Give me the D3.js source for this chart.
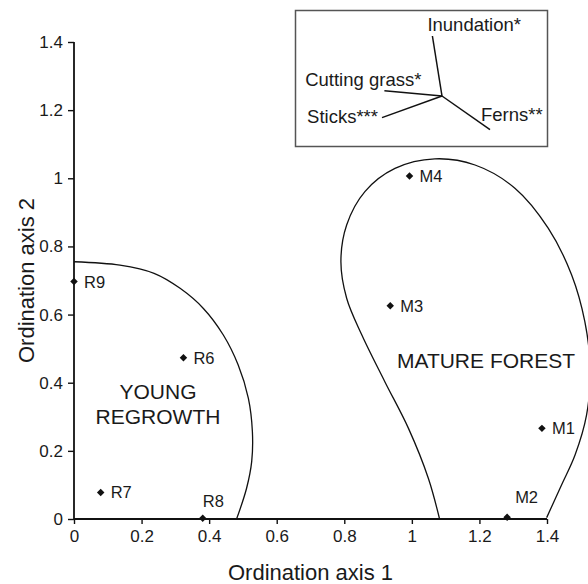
<!DOCTYPE html>
<html>
<head>
<meta charset="utf-8">
<script src="https://cdn.jsdelivr.net/npm/d3@7"></script>
<style>
  body { margin: 0; background: #fff; }
  svg { display: block; font-family: "Liberation Sans", Arial, sans-serif; }
  text { fill: #1a1a1a; }
</style>
</head>
<body>
<svg id="chart" width="588" height="584"></svg>
<script>
// sites on the ordination plot
var siteNames = ["R9", "R6", "R7", "R8", "M4", "M3", "M1", "M2"];
var siteAxis1 = [0, 0.324, 0.079, 0.381, 0.993, 0.936, 1.385, 1.282];
var siteAxis2 = [0.697, 0.473, 0.078, 0.002, 1.007, 0.626, 0.266, 0.005];

// group envelopes
var youngX = [0, 0.136, 0.237, 0.314, 0.383, 0.442, 0.486, 0.516, 0.528, 0.526, 0.511, 0.482];
var youngY = [0.755, 0.745, 0.721, 0.677, 0.618, 0.540, 0.452, 0.355, 0.257, 0.169, 0.091, 0.002];
var matureX = [1.082, 1.049, 0.990, 0.920, 0.852, 0.807, 0.790, 0.807, 0.861, 0.950, 1.068, 1.187, 1.305, 1.404, 1.473, 1.512, 1.528, 1.517, 1.483, 1.443, 1.399];
var matureY = [0.000, 0.119, 0.266, 0.403, 0.540, 0.648, 0.755, 0.863, 0.961, 1.029, 1.057, 1.039, 0.971, 0.853, 0.716, 0.579, 0.440, 0.305, 0.188, 0.100, 0.004];

// environmental vectors (inset biplot)
var vecNames = ["Inundation*", "Cutting grass*", "Sticks***", "Ferns**"];
var vecX = [-0.08, -0.48, -0.50, 0.40];
var vecY = [0.50, 0.044, -0.18, -0.28];

var ticks = [0, 0.2, 0.4, 0.6, 0.8, 1, 1.2, 1.4];

var svg = d3.select("#chart");

var x = d3.scaleLinear().domain([0, 1.4]).range([74, 547]);
var y = d3.scaleLinear().domain([0, 1.4]).range([519, 42]);

// axes
var xAxis = svg.append("g").attr("transform", "translate(0," + y(0) + ")")
    .call(d3.axisBottom(x).tickValues(ticks).tickFormat(d3.format("~g")).tickSize(5).tickPadding(6));
var yAxis = svg.append("g").attr("transform", "translate(" + x(0) + ",0)")
    .call(d3.axisLeft(y).tickValues(ticks).tickFormat(d3.format("~g")).tickSize(6).tickPadding(5));

[xAxis, yAxis].forEach(function(a){
    a.select(".domain").attr("stroke", "#111").attr("stroke-width", 1.8);
    a.selectAll(".tick line").attr("stroke", "#111").attr("stroke-width", 1.4);
    a.selectAll(".tick text").attr("font-size", 17).attr("fill", "#1a1a1a")
        .attr("font-family", "Liberation Sans, Arial, sans-serif");
});
xAxis.select(".domain").attr("d", "M" + x(0) + ",0H" + x(1.4));
yAxis.select(".domain").attr("d", "M0," + y(0) + "V" + y(1.4));

svg.append("text").attr("x", (x(0) + x(1.4)) / 2).attr("y", 580)
    .attr("text-anchor", "middle").attr("font-size", 22).text("Ordination axis 1");
svg.append("text").attr("transform", "translate(34," + (y(0) + y(1.4)) / 2 + ") rotate(-90)")
    .attr("text-anchor", "middle").attr("font-size", 22).text("Ordination axis 2");

// envelopes
var line = d3.line()
    .x(function(d){ return x(d[0]); })
    .y(function(d){ return y(d[1]); })
    .curve(d3.curveCatmullRom.alpha(0.5));

svg.append("path").attr("d", line(d3.zip(youngX, youngY)))
    .attr("fill", "none").attr("stroke", "#111").attr("stroke-width", 1.3);
svg.append("path").attr("d", line(d3.zip(matureX, matureY)))
    .attr("fill", "none").attr("stroke", "#111").attr("stroke-width", 1.3);

// group labels
svg.append("text").attr("x", 158).attr("y", 399).attr("text-anchor", "middle")
    .attr("font-size", 21).text("YOUNG");
svg.append("text").attr("x", 158).attr("y", 424).attr("text-anchor", "middle")
    .attr("font-size", 21).text("REGROWTH");
svg.append("text").attr("x", 486).attr("y", 368).attr("text-anchor", "middle")
    .attr("font-size", 21).text("MATURE FOREST");

// site markers
var sites = siteNames.map(function(n, i){ return {name: n, a1: siteAxis1[i], a2: siteAxis2[i]}; });
var labelShift = {R8: [0, -11], M2: [8, -14]};

svg.append("g").selectAll("path").data(sites).join("path")
    .attr("d", d3.symbol(d3.symbolSquare, 28))
    .attr("transform", function(d){ return "translate(" + x(d.a1) + "," + y(d.a2) + ") rotate(45)"; })
    .attr("fill", "#111");

svg.append("g").selectAll("text").data(sites).join("text")
    .attr("x", function(d){ return x(d.a1) + (labelShift[d.name] ? labelShift[d.name][0] : 10); })
    .attr("y", function(d){ return y(d.a2) + (labelShift[d.name] ? labelShift[d.name][1] : 6); })
    .attr("font-size", 16.5)
    .text(function(d){ return d.name; });

// inset biplot
svg.append("rect").attr("x", 295.5).attr("y", 10.5).attr("width", 252).attr("height", 136)
    .attr("fill", "#fff").attr("stroke", "#555").attr("stroke-width", 1.5);

var cx = 442, cy = 96;
var vs = d3.scaleLinear().domain([0, 1]).range([0, 120]);
var vecs = vecNames.map(function(n, i){ return {name: n, tx: cx + vs(vecX[i]), ty: cy - vs(vecY[i])}; });
// label placement relative to each arrow tip
var vecLab = {
    "Inundation*": {dx: -5, dy: -5, anchor: "start"},
    "Cutting grass*": {dx: 37, dy: -5, anchor: "end"},
    "Sticks***": {dx: -4, dy: 5, anchor: "end"},
    "Ferns**": {dx: -9, dy: -9, anchor: "start"}
};

svg.append("g").selectAll("line").data(vecs).join("line")
    .attr("x1", cx).attr("y1", cy)
    .attr("x2", function(d){ return d.tx; }).attr("y2", function(d){ return d.ty; })
    .attr("stroke", "#111").attr("stroke-width", 1.5);

svg.append("g").selectAll("text").data(vecs).join("text")
    .attr("x", function(d){ return d.tx + vecLab[d.name].dx; })
    .attr("y", function(d){ return d.ty + vecLab[d.name].dy; })
    .attr("text-anchor", function(d){ return vecLab[d.name].anchor; })
    .attr("font-size", 18.5)
    .text(function(d){ return d.name; });
</script>
</body>
</html>
